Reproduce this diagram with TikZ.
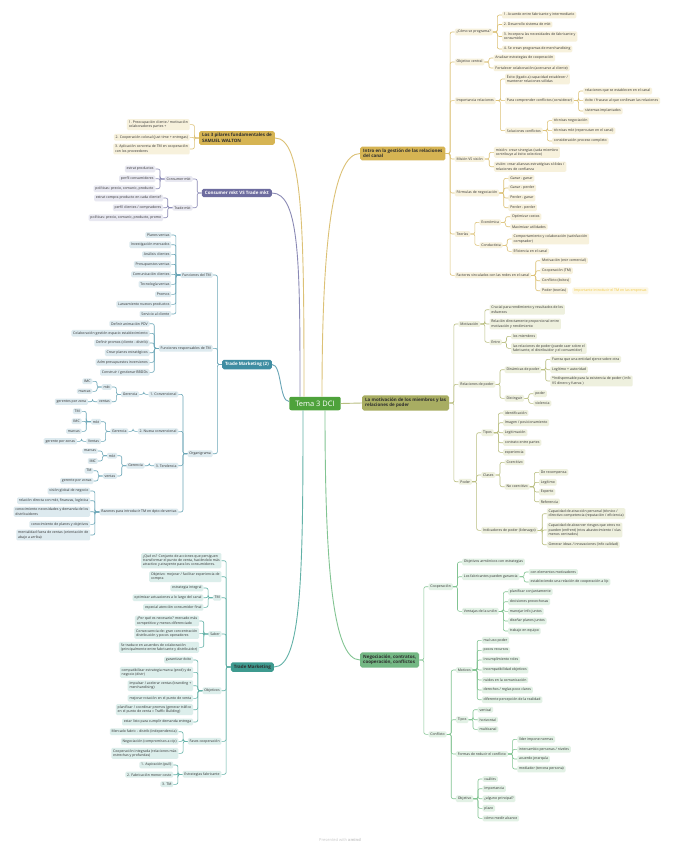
\documentclass[tikz,border=0pt]{standalone}
\usepackage{fontspec}
\setmainfont{Open Sans}
\usetikzlibrary{calc}
\definecolor{txt}{HTML}{2E2E2E}
\definecolor{gbg}{HTML}{F7F1DC}\definecolor{gln}{HTML}{DCC176}\definecolor{gmain}{HTML}{D6B453}
\definecolor{obg}{HTML}{EEF0DE}\definecolor{oln}{HTML}{B9BE80}\definecolor{omain}{HTML}{A8AD62}
\definecolor{nbg}{HTML}{E2F1E5}\definecolor{nln}{HTML}{82C492}\definecolor{nmain}{HTML}{74B884}
\definecolor{pbg}{HTML}{E8E8F1}\definecolor{pln}{HTML}{8B8AB5}\definecolor{pmain}{HTML}{6D6C9F}
\definecolor{tbg}{HTML}{DDEAEF}\definecolor{tln}{HTML}{6BA6B7}\definecolor{tmain}{HTML}{3F8DA2}
\definecolor{mbg}{HTML}{DCEEEB}\definecolor{mln}{HTML}{62B1A7}\definecolor{mmain}{HTML}{3E9A8F}
\definecolor{cgreen}{HTML}{4EA23B}
\definecolor{labtxt}{HTML}{F0C63E}\definecolor{labbg}{HTML}{FCF7E6}
\newcommand\sfs{\fontsize{3.5}{4.2}\selectfont}
\newcommand\mfs{\fontsize{4.5}{5.5}\selectfont}
\newcommand\cfs{\fontsize{7.5}{9}\selectfont}
\newcommand\addR[5]{%
 \path (#3.east) ++(9pt,0) coordinate (tmpc);
 \node[#1s,anchor=west] (#2) at (tmpc |- 0,-#4) {#5};
 \draw[#1l] (#3.east) -- ++(4.5pt,0) |- (#2.west);}
\newcommand\addL[5]{%
 \path (#3.west) ++(-9pt,0) coordinate (tmpc);
 \node[#1s,anchor=east] (#2) at (tmpc |- 0,-#4) {#5};
 \draw[#1l] (#3.west) -- ++(-4.5pt,0) |- (#2.east);}
\begin{document}
\begin{tikzpicture}[x=1pt,y=1pt,
 sub/.style={rounded corners=1.3pt, inner xsep=1.8pt, inner ysep=1.6pt, font=\sfs, text=txt, align=left},
 lin/.style={line width=0.6pt, rounded corners=2pt},
 gs/.style={sub, fill=gbg}, gl/.style={lin, draw=gln},
 os/.style={sub, fill=obg}, ol/.style={lin, draw=oln},
 ns/.style={sub, fill=nbg}, nl/.style={lin, draw=nln},
 ps/.style={sub, fill=pbg}, pl/.style={lin, draw=pln},
 ts/.style={sub, fill=tbg}, tl/.style={lin, draw=tln},
 ms/.style={sub, fill=mbg}, ml/.style={lin, draw=mln},
 mainbox/.style={rounded corners=1.8pt, inner xsep=3pt, inner ysep=2.5pt, font=\mfs\bfseries, align=left, text=txt},
 centerbox/.style={rounded corners=2pt, fill=cgreen, text=white, font=\cfs, inner xsep=6pt, inner ysep=4pt},
 curve/.style={line width=0.9pt}
]
\useasboundingbox (0,0) rectangle (679,-848);
\fill[white] (0,0) rectangle (679,-848);

% center and main topics
\node[centerbox] (T) at (315,-403.5) {Tema 3 DCI};
\node[mainbox, fill=gmain, anchor=west] (I) at (360,-153.5) {Intro en la gestión de las relaciones\\del canal};
\node[mainbox, fill=omain, anchor=west] (M) at (362,-403) {La motivación de los miembros y las\\relaciones de poder};
\node[mainbox, fill=nmain, anchor=west] (N) at (360,-660) {Negociación, contratos,\\cooperación, conflictos};
\node[mainbox, fill=gmain, anchor=east] (W) at (275,-138) {Los 3 pilares fundamentales de\\SAMUEL WALTON};
\node[mainbox, fill=pmain, text=white, anchor=east] (C) at (272,-193) {Consumer mkt VS Trade mkt};
\node[mainbox, fill=tmain, text=white, anchor=east] (T2) at (272,-364.5) {Trade Marketing (2)};
\node[mainbox, fill=mmain, anchor=east] (TM) at (274,-667) {Trade Marketing};

\draw[curve, draw=gln] ([xshift=7pt]T.north) .. controls +(0,150) and +(-28,0) .. (I.west);
\draw[curve, draw=oln] (T.east) -- (M.west);
\draw[curve, draw=nln] ([xshift=10pt]T.south) .. controls +(0,-150) and +(-28,0) .. (N.west);
\draw[curve, draw=gln] ([xshift=-11pt]T.north) .. controls +(0,170) and +(28,0) .. (W.east);
\draw[curve, draw=pln] ([xshift=-15pt]T.north) .. controls +(0,130) and +(28,0) .. (C.east);
\draw[curve, draw=tln] ([yshift=2pt]T.west) .. controls +(-10,0) and +(10,0) .. (T2.east);
\draw[curve, draw=mln] ([xshift=-12pt]T.south) .. controls +(0,-160) and +(28,0) .. (TM.east);

% ---------- Intro (gold, right)
\addR{g}{i1}{I}{32}{¿Cómo se programa?}
\addR{g}{i11}{i1}{15}{1. Acuerdo entre fabricante y intermediario}
\addR{g}{i12}{i1}{24.5}{2. Desarrollo sistema de mkt}
\addR{g}{i13}{i1}{36.5}{3. Incorpora las necesidades de fabricante y\\consumidor}
\addR{g}{i14}{i1}{49}{4. Se crean programas de merchandising}
\addR{g}{i2}{I}{62}{Objetivo central}
\addR{g}{i21}{i2}{58}{Analizar estrategias de cooperación}
\addR{g}{i22}{i2}{68}{Fortalecer colaboración (acercarse al cliente)}
\addR{g}{i3}{I}{100.7}{Importancia relaciones}
\addR{g}{i31}{i3}{79}{Éxito (ligado a) capacidad establecer /\\mantener relaciones sólidas}
\addR{g}{i32}{i3}{100.7}{Para comprender conflictos (considerar)}
\addR{g}{i321}{i32}{91}{relaciones que se establecen en el canal}
\addR{g}{i322}{i32}{100.7}{éxito / fracaso al que conllevan las relaciones}
\addR{g}{i323}{i32}{111}{sistemas implantados}
\addR{g}{i33}{i3}{130.7}{Soluciones conflictos}
\addR{g}{i331}{i33}{120.7}{técnicas negociación}
\addR{g}{i332}{i33}{130.7}{técnicas mkt (repercutan en el canal)}
\addR{g}{i333}{i33}{141}{consideración proceso completo}
\addR{g}{i4}{I}{159}{Misión VS visión}
\addR{g}{i41}{i4}{152.3}{misión: crear sinergias (cada miembro\\contribuye al éxito colectivo)}
\addR{g}{i42}{i4}{166.7}{visión: crear alianzas estratégicas sólidas /\\relaciones de confianza}
\addR{g}{i5}{I}{193}{Fórmulas de negociación}
\addR{g}{i51}{i5}{178.3}{Ganar - ganar}
\addR{g}{i52}{i5}{188}{Ganar - perder}
\addR{g}{i53}{i5}{198}{Perder - ganar}
\addR{g}{i54}{i5}{207.7}{Perder - perder}
\addR{g}{i6}{I}{234}{Teorías}
\addR{g}{i61}{i6}{222.3}{Económica}
\addR{g}{i611}{i61}{216.7}{Optimizar costos}
\addR{g}{i612}{i61}{226.7}{Maximizar utilidades}
\addR{g}{i62}{i6}{245.3}{Conductista}
\addR{g}{i621}{i62}{239}{Comportamiento y colaboración (satisfacción\\comprador)}
\addR{g}{i622}{i62}{251.3}{Eficiencia en el canal}
\addR{g}{i7}{I}{275.3}{Factores vinculados con las redes en el canal}
\addR{g}{i71}{i7}{260.7}{Motivación (estr comercial)}
\addR{g}{i72}{i7}{270.7}{Cooperación (TM)}
\addR{g}{i73}{i7}{280.7}{Conflicto (éxitos)}
\addR{g}{i74}{i7}{290.7}{Poder (teorías)}
\node[sub, fill=labbg, text=labtxt, anchor=west] (lab) at ([xshift=4pt]i74.east) {Importante introducir el TM en las empresas};

% ---------- Motivación (olive, right)
\addR{o}{m1}{M}{324}{Motivación}
\addR{o}{m11}{m1}{309.7}{Crucial para rendimiento y resultados de los\\esfuerzos}
\addR{o}{m12}{m1}{324}{Relación directamente proporcional entre\\motivación y rendimiento}
\addR{o}{m13}{m1}{342.3}{Entre}
\addR{o}{m131}{m13}{336.3}{los miembros}
\addR{o}{m132}{m13}{348.3}{las relaciones de poder (puede caer sobre el\\fabricante, el distribuidor y el consumidor)}
\addR{o}{m2}{M}{384.3}{Relaciones de poder}
\addR{o}{m21}{m2}{369.7}{Dinámicas de poder}
\addR{o}{m211}{m21}{359.3}{Fuerza que una entidad ejerce sobre otra}
\addR{o}{m212}{m21}{369.7}{Legítimo + autoridad}
\addR{o}{m213}{m21}{381}{*Indispensable para la existencia de poder ( info\\VS dinero y fuerza )}
\addR{o}{m22}{m2}{398.3}{Distinguir}
\addR{o}{m221}{m22}{393.7}{poder}
\addR{o}{m222}{m22}{403.3}{violencia}
\addR{o}{m3}{M}{481.7}{Poder}
\addR{o}{m31}{m3}{432.7}{Tipos}
\addR{o}{m311}{m31}{413}{identificación}
\addR{o}{m312}{m31}{422.7}{Imagen / posicionamiento}
\addR{o}{m313}{m31}{432.7}{Legitimación}
\addR{o}{m314}{m31}{442.7}{contrato entre partes}
\addR{o}{m315}{m31}{452.3}{experiencia}
\addR{o}{m32}{m3}{475}{Clases}
\addR{o}{m321}{m32}{462.3}{Coercitivo}
\addR{o}{m322}{m32}{486.7}{No coercitivo}
\addR{o}{m3221}{m322}{472.3}{De recompensa}
\addR{o}{m3222}{m322}{482.3}{Legítimo}
\addR{o}{m3223}{m322}{492}{Experto}
\addR{o}{m3224}{m322}{501.7}{Referencia}
\addR{o}{m33}{m3}{530.3}{Indicadores de poder (liderazgo)}
\addR{o}{m331}{m33}{513.7}{Capacidad de atracción personal (técnico /\\directivo competencia (reputación / eficiencia)}
\addR{o}{m332}{m33}{530}{Capacidad de absorver riesgos que otros no\\pueden (enfrent) (ntos abastecimiento / vías\\menos centrados)}
\addR{o}{m333}{m33}{544.7}{Generar ideas / innovaciones (info calidad)}

% ---------- Negociación (green, right)
\addR{n}{n1}{N}{586.7}{Cooperación}
\addR{n}{n11}{n1}{562}{Objetivos armónicos con estrategias}
\addR{n}{n12}{n1}{576.7}{Los fabricantes pueden ganancia}
\addR{n}{n121}{n12}{572}{con elementos motivadores}
\addR{n}{n122}{n12}{582}{estableciendo una relación de cooperación a l/p}
\addR{n}{n13}{n1}{611.3}{Ventajas de la unión}
\addR{n}{n131}{n13}{591.7}{planificar conjuntamente}
\addR{n}{n132}{n13}{601.7}{decisiones provechosas}
\addR{n}{n133}{n13}{611.3}{manejar info juntos}
\addR{n}{n134}{n13}{621}{diseñar planes juntos}
\addR{n}{n135}{n13}{631}{trabajo en equipo}
\addR{n}{n2}{N}{734.3}{Conflicto}
\addR{n}{n21}{n2}{670}{Motivos}
\addR{n}{n211}{n21}{640.3}{mal uso poder}
\addR{n}{n212}{n21}{650.3}{pocos recursos}
\addR{n}{n213}{n21}{660}{incumplimiento roles}
\addR{n}{n214}{n21}{670}{incompatibilidad objetivos}
\addR{n}{n215}{n21}{680}{ruidos en la comunicación}
\addR{n}{n216}{n21}{690}{derechos / reglas poco claros}
\addR{n}{n217}{n21}{699.7}{diferente percepción de la realidad}
\addR{n}{n22}{n2}{719.7}{Tipos}
\addR{n}{n221}{n22}{709.7}{vertical}
\addR{n}{n222}{n22}{719.7}{horizontal}
\addR{n}{n223}{n22}{729.3}{multicanal}
\addR{n}{n23}{n2}{754}{Formas de reducir el conflicto}
\addR{n}{n231}{n23}{739.3}{líder impone normas}
\addR{n}{n232}{n23}{749.3}{intercambio personas / niveles}
\addR{n}{n233}{n23}{759}{acuerdo jerarquía}
\addR{n}{n234}{n23}{769}{mediador (tercera persona)}
\addR{n}{n24}{n2}{798.7}{Objetivo}
\addR{n}{n241}{n24}{779}{cuál/es}
\addR{n}{n242}{n24}{788.7}{importancia}
\addR{n}{n243}{n24}{798.7}{¿alguno principal?}
\addR{n}{n244}{n24}{808.3}{plazo}
\addR{n}{n245}{n24}{818.3}{cómo medir alcance}

% ---------- Walton (gold, left)
\addL{g}{w1}{W}{124.7}{1. Preocupación cliente / motivación\\colaboradores partes +}
\addL{g}{w2}{W}{137.3}{2. Cooperación colosal (just time + entregas)}
\addL{g}{w3}{W}{149}{3. Aplicación concreta de TM en cooperación\\con los proveedores}

% ---------- Consumer vs Trade (purple, left)
\addL{p}{c1}{C}{179}{Consumer mkt}
\addL{p}{c11}{c1}{169}{estrat productos}
\addL{p}{c12}{c1}{178.7}{perfil consumidores}
\addL{p}{c13}{c1}{188.7}{políticas: precio, comunic, producto}
\addL{p}{c2}{C}{207.7}{Trade mkt}
\addL{p}{c21}{c2}{198}{estrat compra producto en cada cliente?}
\addL{p}{c22}{c2}{207.7}{perfil clientes / compradores}
\addL{p}{c23}{c2}{217.7}{políticas: precio, comunic, producto, promo}

% ---------- Trade Marketing (2) (teal, left)
\addL{t}{t1}{T2}{275}{Funciones del TM}
\addL{t}{t11}{t1}{235}{Planes ventas}
\addL{t}{t12}{t1}{244.7}{Investigación mercados}
\addL{t}{t13}{t1}{254.3}{Análisis clientes}
\addL{t}{t14}{t1}{264.3}{Presupuestos ventas}
\addL{t}{t15}{t1}{274.3}{Comunicación clientes}
\addL{t}{t16}{t1}{284.3}{Tecnología ventas}
\addL{t}{t17}{t1}{294.3}{Promos}
\addL{t}{t18}{t1}{304.3}{Lanzamiento nuevos productos}
\addL{t}{t19}{t1}{314}{Servicio al cliente}
\addL{t}{t2}{T2}{348.3}{Funciones responsables de TM}
\addL{t}{t21}{t2}{323.7}{Definir animación PDV}
\addL{t}{t22}{t2}{333.3}{Colaboración gestión espacio establecimiento}
\addL{t}{t23}{t2}{343}{Definir promos (cliente - distrib)}
\addL{t}{t24}{t2}{352.7}{Crear planes estratégicos}
\addL{t}{t25}{t2}{362.3}{Adm presupuestos inversiones}
\addL{t}{t26}{t2}{372.3}{Construir / gestionar BBDDs}
\addL{t}{t3}{T2}{453.7}{Organigrama}
\addL{t}{t31}{t3}{394.3}{1. Convencional}
\addL{t}{t311}{t31}{394.3}{Gerencia}
\addL{t}{t3111}{t311}{387}{mkt}
\addL{t}{t31111}{t3111}{381.3}{IMC}
\addL{t}{t31112}{t3111}{391.3}{marcas}
\addL{t}{t3112}{t311}{401.7}{ventas}
\addL{t}{t31121}{t3112}{401.7}{gerentes por zona}
\addL{t}{t32}{t3}{431.3}{2. Nueva convencional}
\addL{t}{t321}{t32}{431.3}{Gerencia}
\addL{t}{t3211}{t321}{421.7}{mkt}
\addL{t}{t32111}{t3211}{411.3}{TM}
\addL{t}{t32112}{t3211}{421.3}{IMC}
\addL{t}{t32113}{t3211}{431.3}{marcas}
\addL{t}{t3212}{t321}{441.3}{Ventas}
\addL{t}{t32121}{t3212}{441.3}{gerente por zonas}
\addL{t}{t33}{t3}{465.7}{3. Tendencia}
\addL{t}{t331}{t33}{465.7}{Gerencia}
\addL{t}{t3311}{t331}{455.7}{mkt}
\addL{t}{t33111}{t3311}{451}{marcas}
\addL{t}{t33112}{t3311}{461}{IMC}
\addL{t}{t3312}{t331}{476}{ventas}
\addL{t}{t33121}{t3312}{470.7}{TM}
\addL{t}{t33122}{t3312}{481}{gerente por zonas}
\addL{t}{t34}{t3}{512}{Razones para introducir TM en dpto de ventas}
\addL{t}{t341}{t34}{491}{visión global de negocio}
\addL{t}{t342}{t34}{500.7}{relación directa con mkt, finanzas, logística}
\addL{t}{t343}{t34}{511.7}{conocimiento necesidades y demanda de los\\distribuidores}
\addL{t}{t344}{t34}{524.3}{conocimiento de planes y objetivos}
\addL{t}{t345}{t34}{535}{mentalidad fuera de ventas (orientación de\\abajo a arriba)}

% ---------- Trade Marketing (teal green, left)
\addL{m}{tm1}{TM}{560.7}{¿Qué es? Conjunto de acciones que persiguen\\transformar el punto de venta, haciéndolo más\\atractivo y atrayente para los consumidores.}
\addL{m}{tm2}{TM}{576.7}{Objetivo: mejorar / facilitar experiencia de\\compra}
\addL{m}{tm3}{TM}{597.7}{TM}
\addL{m}{tm31}{tm3}{588}{estrategia integral}
\addL{m}{tm32}{tm3}{597.7}{optimizar actuaciones a lo largo del canal}
\addL{m}{tm33}{tm3}{607.3}{especial atención consumidor final}
\addL{m}{tm4}{TM}{634}{Saber}
\addL{m}{tm41}{tm4}{621}{¿Por qué es necesario? mercado más\\competitivo y menos diferenciado}
\addL{m}{tm42}{tm4}{633.3}{Consecuencia de: gran concentración\\distribución y pocos operadores}
\addL{m}{tm43}{tm4}{647.3}{Se traduce en acuerdos de colaboración\\(principalmente entre fabricante y distribuidor)}
\addL{m}{tm5}{TM}{690.7}{Objetivos}
\addL{m}{tm51}{tm5}{660}{garantizar éxito}
\addL{m}{tm52}{tm5}{672.3}{compatibilizar estrategia marca (prod) y de\\negocio (distr)}
\addL{m}{tm53}{tm5}{685.7}{impulsar / acelerar ventas (branding +\\merchandising)}
\addL{m}{tm54}{tm5}{698.3}{mejorar rotación en el punto de venta}
\addL{m}{tm55}{tm5}{709.7}{planificar / coordinar promos (generar tráfico\\en el punto de venta = Traffic Building)}
\addL{m}{tm56}{tm5}{722}{estar listo para cumplir demanda entrega}
\addL{m}{tm6}{TM}{741.3}{Fases cooperación}
\addL{m}{tm61}{tm6}{731.7}{Mercado fabric - distrib (independencia)}
\addL{m}{tm62}{tm6}{741.3}{Negociación (compromisos a c/p)}
\addL{m}{tm63}{tm6}{753.3}{Cooperación integrada (relaciones más\\estrechas y profundas)}
\addL{m}{tm7}{TM}{774.3}{Estrategias fabricante}
\addL{m}{tm71}{tm7}{765}{1. Aspiración (pull)}
\addL{m}{tm72}{tm7}{774.7}{2. Fabricación menor costo}
\addL{m}{tm73}{tm7}{784.3}{3. TM}

\node[font=\fontsize{4}{5}\selectfont, text=black!22] (foot) at (340,-840) {Presented with \textbf{xmind}};
\end{tikzpicture}
\end{document}
